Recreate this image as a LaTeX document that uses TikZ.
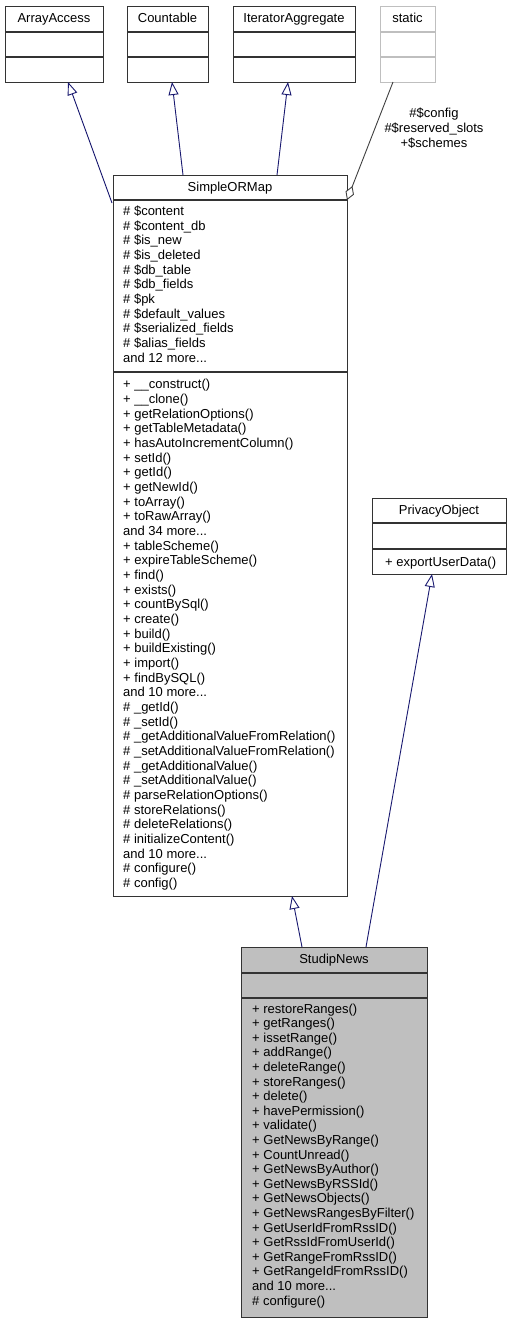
\documentclass[tikz,border=0pt]{standalone}
\usepackage{fontspec}
\setmainfont{Liberation Sans}
\usetikzlibrary{arrows.meta,calc}
\definecolor{edgeblue}{HTML}{191970}
\definecolor{boxline}{HTML}{333333}
\definecolor{lightline}{HTML}{BFBFBF}
\definecolor{gray4}{HTML}{404040}
\definecolor{fillgray}{HTML}{BFBFBF}
\newcommand\tdots{...}
\begin{document}
\begin{tikzpicture}[x=1pt,y=-1pt,
  font=\fontsize{13}{14.7}\selectfont,
  cbox/.style={draw=boxline,line width=1.2pt,rectangle,inner sep=0pt,anchor=north west},
  sep/.style={draw=boxline,line width=1.2pt},
  txt/.style={anchor=base west,inner sep=0pt},
  ttl/.style={anchor=base,inner sep=0pt},
  inherit/.style={draw=edgeblue,line width=0.9pt,-{Triangle[open,length=13pt,width=10pt,fill=white]}},
  usage/.style={draw=gray4,line width=0.9pt,{Diamond[open,length=15pt,width=9pt,fill=white]}-}
]
\useasboundingbox (0,0) rectangle (512,1323);
\fill[white] (0,0) rectangle (512,1323);

% ArrayAccess
\node[cbox,minimum width=98pt,minimum height=76pt] (aa) at (5,6) {};
\draw[sep] (5,32) -- (103,32) (5,57) -- (103,57);
\node[ttl] (aat) at (54,22.5) {ArrayAccess};

% Countable
\node[cbox,minimum width=81pt,minimum height=76pt] (cnt) at (127,6) {};
\draw[sep] (127,32) -- (208,32) (127,57) -- (208,57);
\node[ttl] (cntt) at (167.5,22.5) {Countable};

% IteratorAggregate
\node[cbox,minimum width=122pt,minimum height=76pt] (ia) at (233,6) {};
\draw[sep] (233,32) -- (355,32) (233,57) -- (355,57);
\node[ttl] (iat) at (294,22.5) {IteratorAggregate};

% static
\node[cbox,draw=lightline,minimum width=55pt,minimum height=76pt] (st) at (380,6) {};
\draw[sep,draw=lightline] (380,32) -- (435,32) (380,57) -- (435,57);
\node[ttl] (stt) at (407.5,22.5) {static};

% SimpleORMap
\node[cbox,minimum width=234pt,minimum height=721pt] (sorm) at (113,175) {};
\draw[sep] (113,200) -- (347,200) (113,372) -- (347,372);
\node[ttl] (sormt) at (230,191.5) {SimpleORMap};
\foreach \t [count=\i from 0] in {\# \$content,\# \$content\_db,\# \$is\_new,\# \$is\_deleted,\# \$db\_table,\# \$db\_fields,\# \$pk,\# \$default\_values,\# \$serialized\_fields,\# \$alias\_fields,and 12 more\tdots}
  \node[txt] (sa\i) at (123,215.5+\i*14.67) {\t};
\foreach \t [count=\i from 0] in {+ \_\_construct(),+ \_\_clone(),+ getRelationOptions(),+ getTableMetadata(),+ hasAutoIncrementColumn(),+ setId(),+ getId(),+ getNewId(),+ toArray(),+ toRawArray(),and 34 more\tdots,+ tableScheme(),+ expireTableScheme(),+ find(),+ exists(),+ countBySql(),+ create(),+ build(),+ buildExisting(),+ import(),+ findBySQL(),and 10 more\tdots,\# \_getId(),\# \_setId(),\# \_getAdditionalValueFromRelation(),\# \_setAdditionalValueFromRelation(),\# \_getAdditionalValue(),\# \_setAdditionalValue(),\# parseRelationOptions(),\# storeRelations(),\# deleteRelations(),\# initializeContent(),and 10 more\tdots,\# configure(),\# config()}
  \node[txt] (sm\i) at (123,388.7+\i*14.67) {\t};

% PrivacyObject
\node[cbox,minimum width=134pt,minimum height=76pt] (po) at (372,498) {};
\draw[sep] (372,523) -- (506,523) (372,549) -- (506,549);
\node[ttl] (pot) at (439,514.5) {PrivacyObject};
\node[txt] (pom) at (385,566) {+ exportUserData()};

% StudipNews
\node[cbox,fill=fillgray,minimum width=186pt,minimum height=370pt] (sn) at (241,947) {};
\draw[sep] (241,973) -- (427,973) (241,998) -- (427,998);
\node[ttl] (snt) at (334,963.5) {StudipNews};
\foreach \t [count=\i from 0] in {+ restoreRanges(),+ getRanges(),+ issetRange(),+ addRange(),+ deleteRange(),+ storeRanges(),+ delete(),+ havePermission(),+ validate(),+ GetNewsByRange(),+ CountUnread(),+ GetNewsByAuthor(),+ GetNewsByRSSId(),+ GetNewsObjects(),+ GetNewsRangesByFilter(),+ GetUserIdFromRssID(),+ GetRssIdFromUserId(),+ GetRangeFromRssID(),+ GetRangeIdFromRssID(),and 10 more\tdots,\# configure()}
  \node[txt] (sn\i) at (252,1013+\i*14.6) {\t};

% connector end points
\coordinate (e1a) at (112,203);
\coordinate (e1b) at (68,82);
\coordinate (e2a) at (183,175);
\coordinate (e2b) at (172,82);
\coordinate (e3a) at (277,175);
\coordinate (e3b) at (288,82);
\coordinate (e4a) at (347,200);
\coordinate (e4b) at (393,82);
\coordinate (e5a) at (302,947);
\coordinate (e5b) at (292,896);
\coordinate (e6a) at (366,947);
\coordinate (e6b) at (432,574);

\draw[inherit] (e1a) -- (e1b);
\draw[inherit] (e2a) -- (e2b);
\draw[inherit] (e3a) -- (e3b);
\draw[usage] (e4a) -- (e4b);
\draw[inherit] (e5a) -- (e5b);
\draw[inherit] (e6a) -- (e6b);

\node[align=center,inner sep=0pt,anchor=base,font=\fontsize{13}{15}\selectfont] (lbl) at (434,147) {\#\$config\\\#\$reserved\_slots\\+\$schemes};
\end{tikzpicture}
\end{document}
